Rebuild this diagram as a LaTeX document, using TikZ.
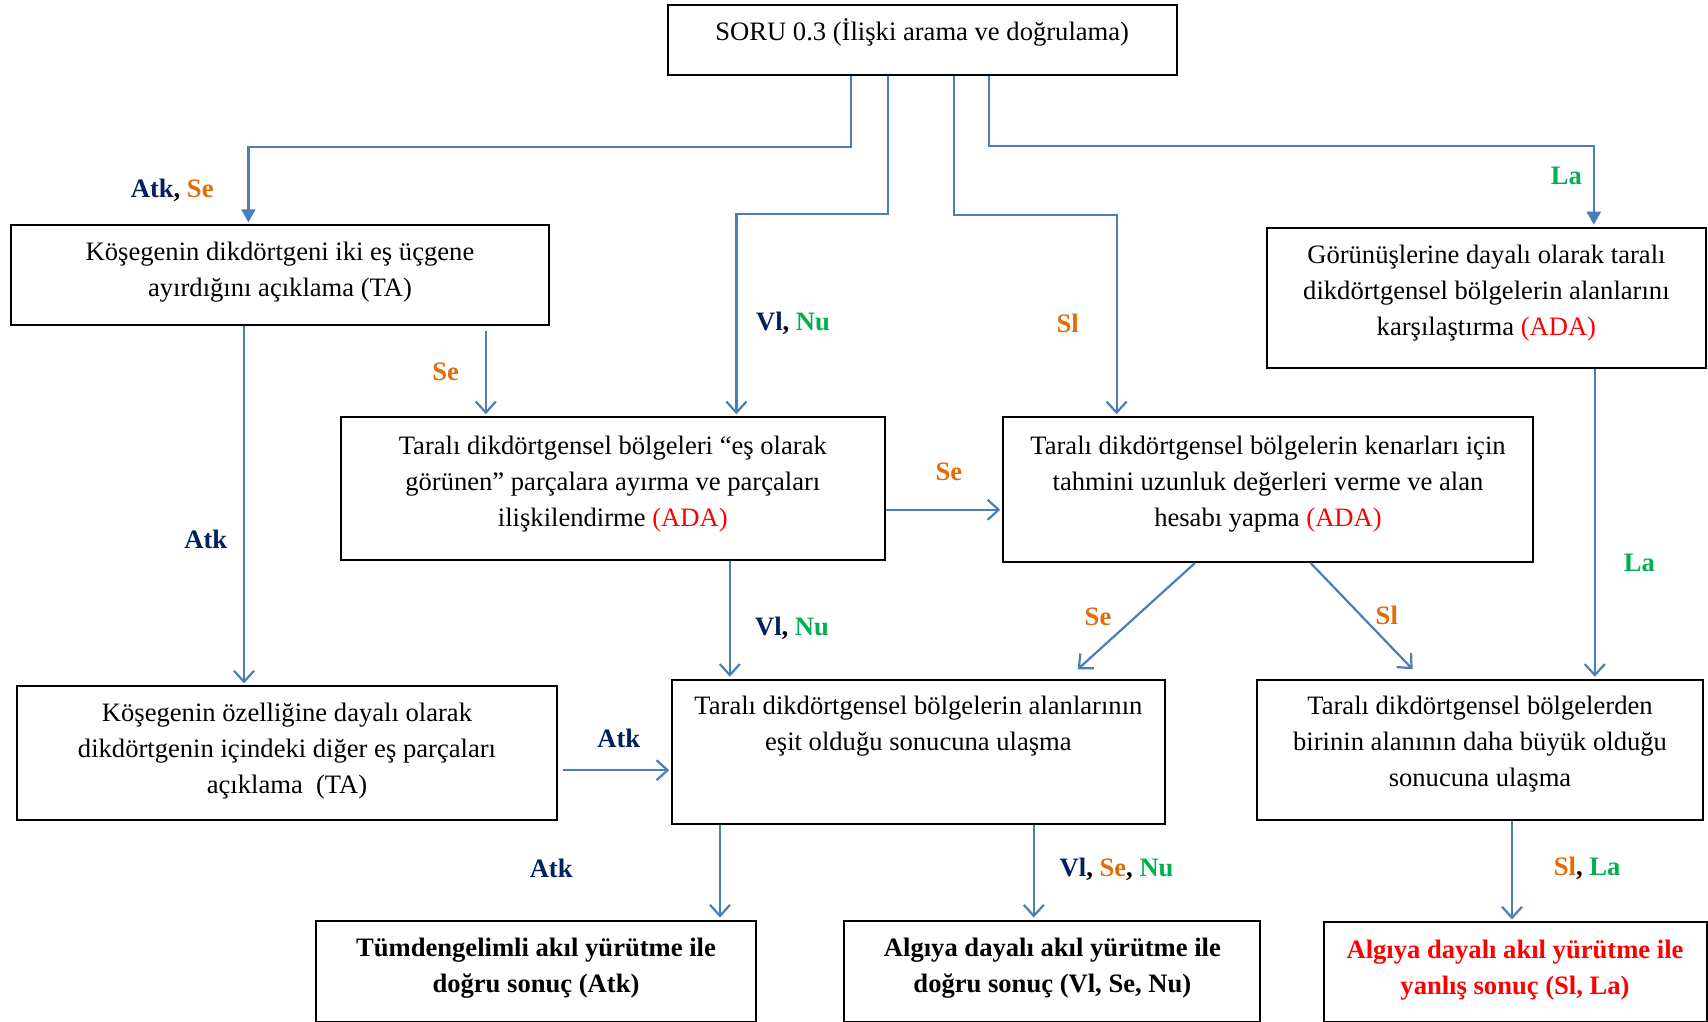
\documentclass[tikz,border=0pt]{standalone}
\usepackage{fontspec}
\setmainfont{Liberation Serif}
\usetikzlibrary{arrows.meta, positioning}
\definecolor{flow}{HTML}{4A7EBB}
\definecolor{navy}{HTML}{002060}
\definecolor{orng}{HTML}{E36C09}
\definecolor{grn}{HTML}{00B050}
\definecolor{ada}{HTML}{FF0000}
\newcommand{\lAtk}{\textcolor{navy}{Atk}}
\newcommand{\lVl}{\textcolor{navy}{Vl}}
\newcommand{\lSe}{\textcolor{orng}{Se}}
\newcommand{\lSl}{\textcolor{orng}{Sl}}
\newcommand{\lNu}{\textcolor{grn}{Nu}}
\newcommand{\lLa}{\textcolor{grn}{La}}
\newcommand{\ADA}{\textcolor{ada}{(ADA)}}
\tikzset{
    box/.style={draw, line width=1pt, align=center, inner sep=0pt, text depth=8pt},
    result/.style={box, font=\fontsize{13.3}{18}\selectfont\bfseries, text depth=5.5pt},
    lbl/.style={font=\fontsize{13.3}{18}\selectfont\bfseries},
    conn/.style={draw=flow, line width=1.1pt, shorten >=1pt},
    tipA/.style={-{Triangle[length=6.5pt,width=7pt]}},
    tipV/.style={-{Straight Barb[length=5.5pt,width=10pt]}}
}

\begin{document}
\begin{tikzpicture}[x=1pt, y=-1pt, font=\fontsize{13.3}{18}\selectfont]
	\useasboundingbox (0,0) rectangle (854,511);
	% kutular
	\node[box, minimum width=254.4pt, minimum height=34.9pt, text depth=11pt] (soru) at (461.1,20.2) {SORU 0.3 (İlişki arama ve doğrulama)};
	\node[box, minimum width=269pt, minimum height=49.6pt, text depth=5.5pt] (kose) at (140,137.5) {Köşegenin dikdörtgeni iki eş üçgene\\ ayırdığını açıklama (TA)};
	\node[box, minimum width=219.5pt, minimum height=70.3pt, text depth=7.7pt] (gorunus) at (743.2,149) {Görünüşlerine dayalı olarak taralı\\ dikdörtgensel bölgelerin alanlarını\\ karşılaştırma \ADA};
	\node[box, minimum width=271.8pt, minimum height=71.4pt, text depth=7.7pt] (esparca) at (306.4,244.3) {Taralı dikdörtgensel bölgeleri “eş olarak\\ görünen” parçalara ayırma ve parçaları\\ ilişkilendirme \ADA};
	\node[box, minimum width=264.7pt, minimum height=72.4pt, text depth=8.8pt] (kenar) at (634,244.8) {Taralı dikdörtgensel bölgelerin kenarları için\\ tahmini uzunluk değerleri verme ve alan\\ hesabı yapma \ADA};
	\node[box, minimum width=269.6pt, minimum height=67pt, text depth=5.5pt] (ozellik) at (143.5,376.7) {Köşegenin özelliğine dayalı olarak\\ dikdörtgenin içindeki diğer eş parçaları\\ açıklama\ \ (TA)};
	\node[box, minimum width=246.2pt, minimum height=71.9pt, text depth=10pt] (esit) at (459.2,375.8) {Taralı dikdörtgensel bölgelerin alanlarının\\ eşit olduğu sonucuna ulaşma\\ \mbox{}};
	\node[box, minimum width=222.8pt, minimum height=70.3pt, text depth=8.8pt] (buyuk) at (740,375) {Taralı dikdörtgensel bölgelerden\\ birinin alanının daha büyük olduğu\\ sonucuna ulaşma};
	\node[result, minimum width=220pt, minimum height=50.7pt] (tumden) at (268,485.6) {Tümdengelimli akıl yürütme ile\\ doğru sonuç (Atk)};
	\node[result, minimum width=208pt, minimum height=50.7pt] (algidogru) at (526.2,485.6) {Algıya dayalı akıl yürütme ile\\ doğru sonuç (Vl, Se, Nu)};
	\node[result, minimum width=191.5pt, minimum height=49.6pt, text=ada, text depth=5pt] (algiyanlis) at (757.5,486) {Algıya dayalı akıl yürütme ile\\ yanlış sonuç (Sl, La)};
	% dallar
	\coordinate (k1) at (124.2,73.5);
	\coordinate (k2) at (368.2,106.8);
	\coordinate (k3) at (558.3,107.3);
	\coordinate (k4) at (796.9,73);
	\draw[conn, tipA] ([xshift=-35.7pt]soru.south) |- (k1) -- (k1 |- kose.north);
	\draw[conn, tipV] ([xshift=-17.2pt]soru.south) |- (k2) -- (k2 |- esparca.north);
	\draw[conn, tipV] ([xshift=16pt]soru.south) |- (k3) -- (k3 |- kenar.north);
	\draw[conn, tipA] ([xshift=33.5pt]soru.south) |- (k4) -- (k4 |- gorunus.north);
	\draw[conn, tipV] ([xshift=-18pt]kose.south) -- ([xshift=-18pt]kose.south |- ozellik.north);
	\draw[conn, tipV, shorten <=2.5pt] ([xshift=102.9pt]kose.south) -- ([xshift=102.9pt]kose.south |- esparca.north);
	\draw[conn, tipV] ([yshift=-10.6pt]esparca.east) -- ([yshift=-10.6pt]esparca.east -| kenar.west);
	\draw[conn, tipV] ([xshift=54.2pt]gorunus.south) -- ([xshift=54.2pt]gorunus.south |- buyuk.north);
	\draw[conn, tipV] ([xshift=58.5pt]esparca.south) -- ([xshift=58.5pt]esparca.south |- esit.north);
	\draw[conn, tipV] ([xshift=-36.5pt]kenar.south) -- ([xshift=78.9pt,yshift=4pt]esit.north);
	\draw[conn, tipV] ([xshift=21.3pt]kenar.south) -- ([xshift=-33pt,yshift=4pt]buyuk.north);
	\draw[conn, tipV, shorten <=2.5pt] ([yshift=-8.4pt]ozellik.east) -- ([yshift=-8.4pt]ozellik.east -| esit.west);
	\draw[conn, tipV] ([xshift=-99.2pt]esit.south) -- ([xshift=-99.2pt]esit.south |- tumden.north);
	\draw[conn, tipV] ([xshift=57.7pt]esit.south) -- ([xshift=57.7pt]esit.south |- algidogru.north);
	\draw[conn, tipV] ([xshift=16pt]buyuk.south) -- ([xshift=16pt]buyuk.south |- algiyanlis.north);
	% etiketler
	\node[lbl] (l1) at (86.1,95.3) {\lAtk, \lSe};
	\node[lbl] (l2) at (396.5,161.8) {\lVl, \lNu};
	\node[lbl] (l3) at (533.8,161.8) {\lSl};
	\node[lbl] (l4) at (783.2,88.2) {\lLa};
	\node[lbl] (l5) at (222.8,185.7) {\lSe};
	\node[lbl] (l6) at (102.9,269.6) {\lAtk};
	\node[lbl] (l7) at (474.4,235.8) {\lSe};
	\node[lbl] (l8) at (819.7,281.6) {\lLa};
	\node[lbl] (l9) at (396,314.3) {\lVl, \lNu};
	\node[lbl] (l10) at (549,308.3) {\lSe};
	\node[lbl] (l11) at (693.4,307.7) {\lSl};
	\node[lbl] (l12) at (309.4,369.3) {\lAtk};
	\node[lbl] (l13) at (275.6,434.1) {\lAtk};
	\node[lbl] (l14) at (558.3,434.7) {\lVl, \lSe, \lNu};
	\node[lbl] (l15) at (793.6,434.1) {\lSl, \lLa};
\end{tikzpicture}
\end{document}
